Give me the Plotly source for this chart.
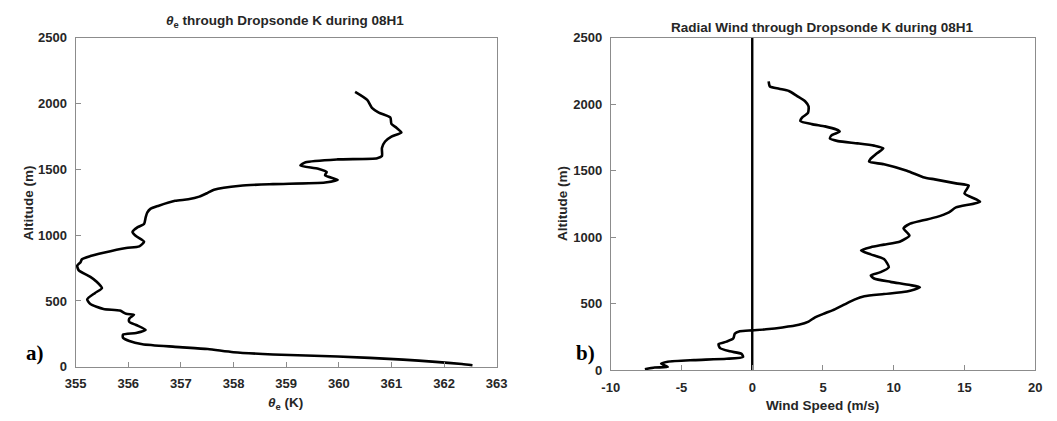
import plotly.graph_objects as go

# ---- Data: theta_e profile (K) vs altitude (m) ----
theta_e = [360.31, 360.54, 360.63, 360.76, 360.98, 361.0, 361.1, 361.19, 361.0, 360.88,
           360.82, 360.82, 360.73, 359.98, 359.37, 359.27, 359.61, 359.77, 359.74, 359.98,
           359.74, 358.75, 358.13, 357.63, 357.51, 357.35, 357.14, 356.89, 356.58, 356.42,
           356.36, 356.33, 356.30, 356.18, 356.08, 356.14, 356.30, 356.21, 355.96, 355.53,
           355.28, 355.12, 355.09, 355.03, 355.06, 355.28, 355.40, 355.50, 355.37, 355.22,
           355.28, 355.53, 355.84, 355.96, 356.11, 356.02, 356.02, 356.15, 356.33, 356.15,
           355.90, 355.90, 356.02, 356.27, 356.89, 357.51, 358.0, 358.75, 359.98, 361.22,
           361.84, 362.34, 362.54]
theta_alt = [2090, 2029, 1968, 1932, 1895, 1846, 1815, 1780, 1749, 1712,
             1663, 1602, 1585, 1576, 1554, 1529, 1505, 1480, 1456, 1420,
             1400, 1388, 1376, 1346, 1322, 1293, 1273, 1261, 1224, 1200,
             1171, 1134, 1085, 1061, 1024, 995, 951, 915, 902, 866,
             841, 817, 793, 768, 732, 683, 646, 598, 561, 512,
             476, 439, 427, 402, 395, 366, 341, 317, 280, 256,
             244, 220, 195, 171, 151, 134, 110, 93, 78, 54,
             37, 20, 10]

# ---- Data: radial wind (m/s) vs altitude (m) ----
wind = [1.16, 1.25, 1.90, 2.59, 3.17, 3.75, 3.98, 3.94, 3.52, 3.40,
        4.21, 5.14, 5.95, 6.18, 5.60, 5.49, 6.06, 7.45, 8.61, 9.26,
        8.84, 8.33, 8.26, 9.31, 10.93, 12.08, 12.9, 14.40, 15.3, 15.0,
        16.1, 14.40, 13.90, 13.01, 12.08, 11.16, 10.69, 11.11, 10.46, 9.31,
        8.38, 7.69, 8.38, 9.31, 9.65, 9.07, 8.38, 8.61, 9.77, 11.16,
        11.85, 10.93, 9.31, 7.92, 7.22, 6.53, 5.83, 5.14, 4.44, 3.98,
        3.29, 2.13, 0.97, 0.0, -0.88, -1.23, -1.34, -1.81, -2.38, -2.27,
        -1.57, -0.76, -0.65, -1.81, -4.12, -5.97, -6.44, -5.97, -6.90, -7.59]
wind_alt = [2173, 2134, 2117, 2100, 2062, 2021, 1984, 1936, 1900, 1875,
            1851, 1834, 1810, 1795, 1766, 1742, 1723, 1706, 1689, 1669,
            1633, 1585, 1568, 1549, 1500, 1452, 1435, 1405, 1388, 1330,
            1267, 1224, 1187, 1151, 1127, 1102, 1066, 1012, 968, 944,
            925, 900, 871, 835, 774, 737, 713, 689, 664, 640,
            623, 591, 572, 555, 530, 494, 457, 428, 397, 365,
            341, 321, 307, 299, 292, 275, 238, 214, 195, 165,
            141, 122, 100, 85, 75, 63, 49, 24, 19, 7]

zero_line_x = [0, 0]
zero_line_y = [0, 2500]

theta_ticks = [355, 356, 357, 358, 359, 360, 361, 362, 363]
wind_ticks = [-10, -5, 0, 5, 10, 15, 20]
alt_ticks = [0, 500, 1000, 1500, 2000, 2500]

W, H = 1057, 421
def px(x):
    return x / W
def py(y):
    return 1 - y / H

def bold_labels(vals):
    return ["<b>%s</b>" % v for v in vals]

fig = go.Figure()
fig.add_trace(go.Scatter(x=theta_e, y=theta_alt, mode="lines",
                         line=dict(color="black", width=2.6, shape="spline", smoothing=0.6),
                         xaxis="x", yaxis="y", showlegend=False))
fig.add_trace(go.Scatter(x=zero_line_x, y=zero_line_y, mode="lines",
                         line=dict(color="black", width=2.4),
                         xaxis="x2", yaxis="y2", showlegend=False))
fig.add_trace(go.Scatter(x=wind, y=wind_alt, mode="lines",
                         line=dict(color="black", width=2.6, shape="spline", smoothing=0.6),
                         xaxis="x2", yaxis="y2", showlegend=False))

FONT = "Liberation Sans"
tickfont = dict(family=FONT, size=13, color="#262626")
axcommon = dict(showline=True, mirror=True, linecolor="#8c8c8c", linewidth=1,
                ticks="inside", ticklen=5, tickcolor="#8c8c8c", showgrid=False,
                zeroline=False, tickfont=tickfont, fixedrange=True, tickmode="array")

fig.update_layout(
    width=W, height=H, margin=dict(l=0, r=0, t=0, b=0),
    paper_bgcolor="white", plot_bgcolor="white",
    font=dict(family=FONT),
    xaxis=dict(domain=[px(66), px(496)], range=[355, 363], tickvals=theta_ticks,
               ticktext=bold_labels(theta_ticks), anchor="y", ticklabelstandoff=5, **axcommon),
    yaxis=dict(domain=[py(373), py(32)], range=[0, 2500], tickvals=alt_ticks,
               ticktext=bold_labels(alt_ticks), anchor="x", ticklabelstandoff=5, **axcommon),
    xaxis2=dict(domain=[px(612.5), px(1046)], range=[-10, 20], tickvals=wind_ticks,
                ticktext=bold_labels(wind_ticks), anchor="y2", ticklabelstandoff=5, **axcommon),
    yaxis2=dict(domain=[py(376.5), py(32)], range=[0, 2500], tickvals=alt_ticks,
                ticktext=bold_labels(alt_ticks), anchor="x2", ticklabelstandoff=5, **axcommon),
)

labfont = dict(family=FONT, size=13.5, color="#262626")
ann = [
    dict(text="<b><i>θ</i><sub>e</sub> through Dropsonde K during 08H1</b>", x=px(280), y=py(15)),
    dict(text="<b>Radial Wind through Dropsonde K during 08H1</b>", x=px(829), y=py(21)),
    dict(text="<b><i>θ</i><sub>e</sub> (K)</b>", x=px(280), y=py(411)),
    dict(text="<b>Wind Speed (m/s)</b>", x=px(829), y=py(413)),
]
for a in ann:
    fig.add_annotation(xref="paper", yref="paper", showarrow=False,
                       xanchor="center", yanchor="middle", font=labfont, **a)
for xx, yy in [(18, 203), (563, 204)]:
    fig.add_annotation(text="<b>Altitude (m)</b>", xref="paper", yref="paper", x=px(xx), y=py(yy),
                       showarrow=False, textangle=-90, xanchor="center", yanchor="middle",
                       font=labfont)
for t, xx in [("a)", 24), ("b)", 587)]:
    fig.add_annotation(text="<b>%s</b>" % t, xref="paper", yref="paper", x=px(xx), y=py(359),
                       showarrow=False, xanchor="center", yanchor="middle",
                       font=dict(family="Liberation Serif", size=21, color="black"))

fig.write_html("out.html")
